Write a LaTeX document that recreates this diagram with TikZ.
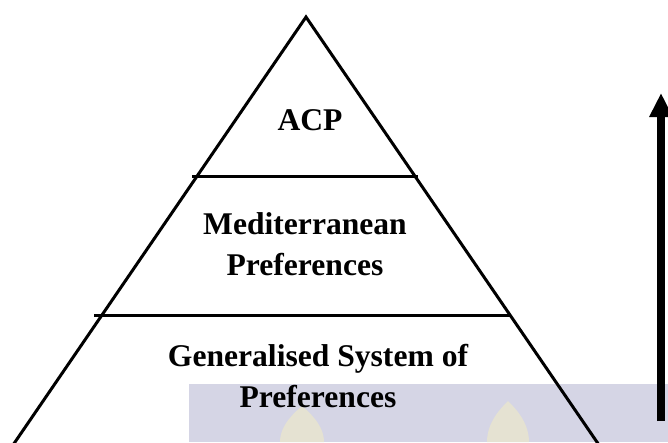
\documentclass[tikz,border=0pt]{standalone}
\usepackage{fontspec}
\setmainfont{Liberation Serif}
\usetikzlibrary{arrows.meta}
\definecolor{wmblue}{RGB}{213,213,229}
\definecolor{wmyellow}{RGB}{229,226,210}
\tikzset{
  edge/.style={line width=3pt, line cap=butt},
  label/.style={font=\fontsize{31.6}{41}\selectfont\bfseries, align=center, anchor=base, inner sep=0pt},
  uparrow/.style={line width=8pt, -{Triangle[length=24pt,width=22pt]}}
}
\begin{document}
\begin{tikzpicture}[x=1pt,y=-1pt]
  \useasboundingbox (0,0) rectangle (668,442);
  % watermark
  \fill[wmblue] (189,384) rectangle (668,442);
  \fill[wmyellow] (280,442) .. controls (280,425) and (295,412) .. (302,406) .. controls (309,412) and (324,425) .. (324,442) -- cycle;
  \fill[wmyellow] (487,442) .. controls (487,422) and (501,408) .. (508,401) .. controls (515,408) and (529,422) .. (529,442) -- cycle;
  % pyramid
  \coordinate (apex) at (306,17);
  \coordinate (bl) at (13,445);
  \coordinate (br) at (599,445);
  \begin{scope}
    \clip (0,0) rectangle (668,442);
    \draw[edge, line join=miter] (bl) -- (apex) -- (br);
  \end{scope}
  \coordinate (l1a) at (192,176);
  \coordinate (l1b) at (418,176);
  \coordinate (l2a) at (94,315);
  \coordinate (l2b) at (511,315);
  \draw[edge] (l1a) -- (l1b);
  \draw[edge] (l2a) -- (l2b);
  % labels
  \node[label] (acp) at (310,130) {ACP};
  \node[label] (med) at (305,275) {Mediterranean\\Preferences};
  \node[label] (gsp) at (318,407) {Generalised System of\\Preferences};
  % arrow
  \coordinate (abot) at (661,421);
  \coordinate (atop) at (661,93);
  \draw[uparrow] (abot) -- (atop);
\end{tikzpicture}
\end{document}
